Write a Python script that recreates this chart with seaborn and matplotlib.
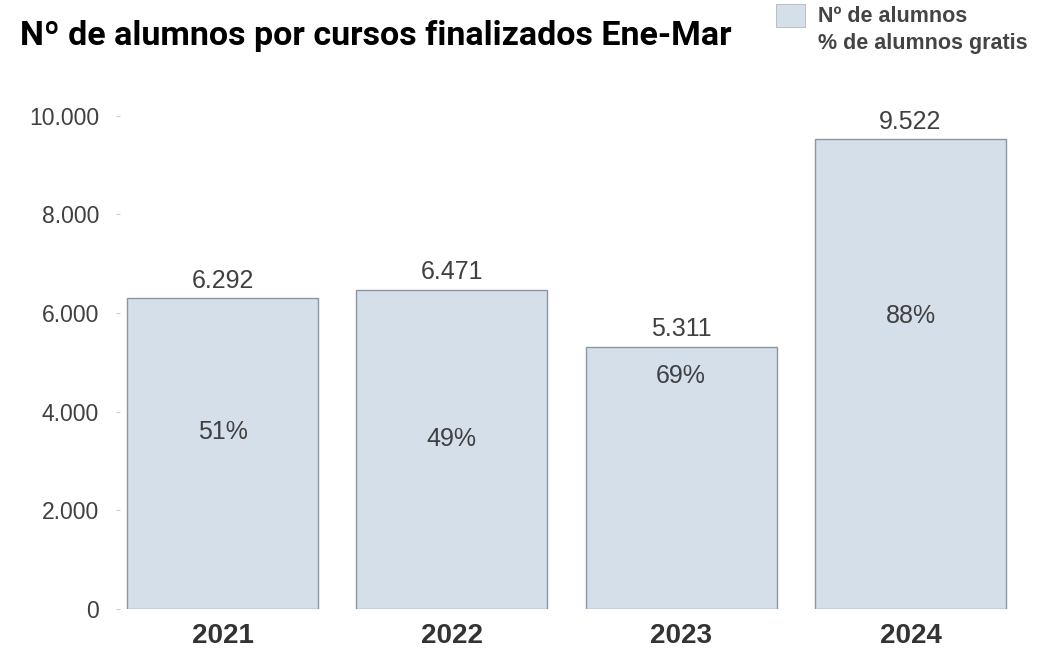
import matplotlib
matplotlib.use("Agg")
import matplotlib.pyplot as plt
import matplotlib.patches as mpatches
import matplotlib.lines as mlines
import pandas as pd
import seaborn as sns

years = ["2021", "2022", "2023", "2024"]
alumnos = [6292, 6471, 5311, 9522]
pct_gratis = [51, 49, 69, 88]
y_ticks = [0, 2000, 4000, 6000, 8000, 10000]
y_tick_labels = ["0", "2.000", "4.000", "6.000", "8.000", "10.000"]

BAR_FILL = "#d5dfea"
BAR_EDGE = "#8c96a3"
TEXT = "#404040"

sns.set_style("white")
plt.rcParams["font.family"] = ["Liberation Sans", "DejaVu Sans"]

df = pd.DataFrame({"year": years, "alumnos": alumnos, "pct": pct_gratis})

fig = plt.figure(figsize=(10.6, 6.5), dpi=100)
ax = fig.add_axes([120 / 1060, 0.0631, 893 / 1060, 0.7592])

sns.barplot(data=df, x="year", y="alumnos", color=BAR_FILL, width=0.833,
            edgecolor=BAR_EDGE, linewidth=1, saturation=1, ax=ax)
ax.set_xlim(-0.447, 3.447)
ax.set_ylim(0, 10000)
ax.set_yticks(y_ticks)
ax.set_yticklabels(y_tick_labels, fontsize=16.5, color=TEXT)
ax.set_xticks(range(len(years)))
ax.set_xticklabels(years, fontsize=20, fontweight="bold", color="#333333")
ax.tick_params(axis="y", length=3, color="#cccccc", pad=12)
ax.tick_params(axis="x", length=0, pad=10)
ax.set_xlabel("")
ax.set_ylabel("")
sns.despine(ax=ax, left=True, bottom=True)

# value labels above bars
for i, v in enumerate(alumnos):
    ax.annotate(f"{v:,}".replace(",", "."), (i, v), xytext=(0, 4),
                textcoords="offset points", ha="center", va="bottom",
                fontsize=18, color=TEXT)

# percentage labels on a hidden secondary scale
ax2 = ax.twinx()
ax2.set_ylim(-5.4, 152.1)
ax2.axis("off")
for i, p in enumerate(pct_gratis):
    ax2.text(i, p, f"{p}%", ha="center", va="center", fontsize=18, color=TEXT)

# title
fig.text(0.019, 0.944, "Nº de alumnos por cursos finalizados Ene-Mar",
         fontsize=24.5, fontweight="bold", color="black", va="center",
         family=["Liberation Sans Narrow", "Roboto", "DejaVu Sans"])

# legend
handles = [
    mpatches.Patch(facecolor=BAR_FILL, edgecolor="#b0b8c2", linewidth=0.6,
                   label="Nº de alumnos"),
    mlines.Line2D([], [], color="none", label="% de alumnos gratis"),
]
leg = fig.legend(handles=handles, loc="upper left", bbox_to_anchor=(0.714, 1.024),
                 frameon=False, handlelength=1.35, handleheight=1.25,
                 handletextpad=0.6, labelspacing=0.15,
                 prop={"weight": "bold", "size": 15.5})
for t in leg.get_texts():
    t.set_color("#444444")

fig.savefig("out.png", dpi=100)
